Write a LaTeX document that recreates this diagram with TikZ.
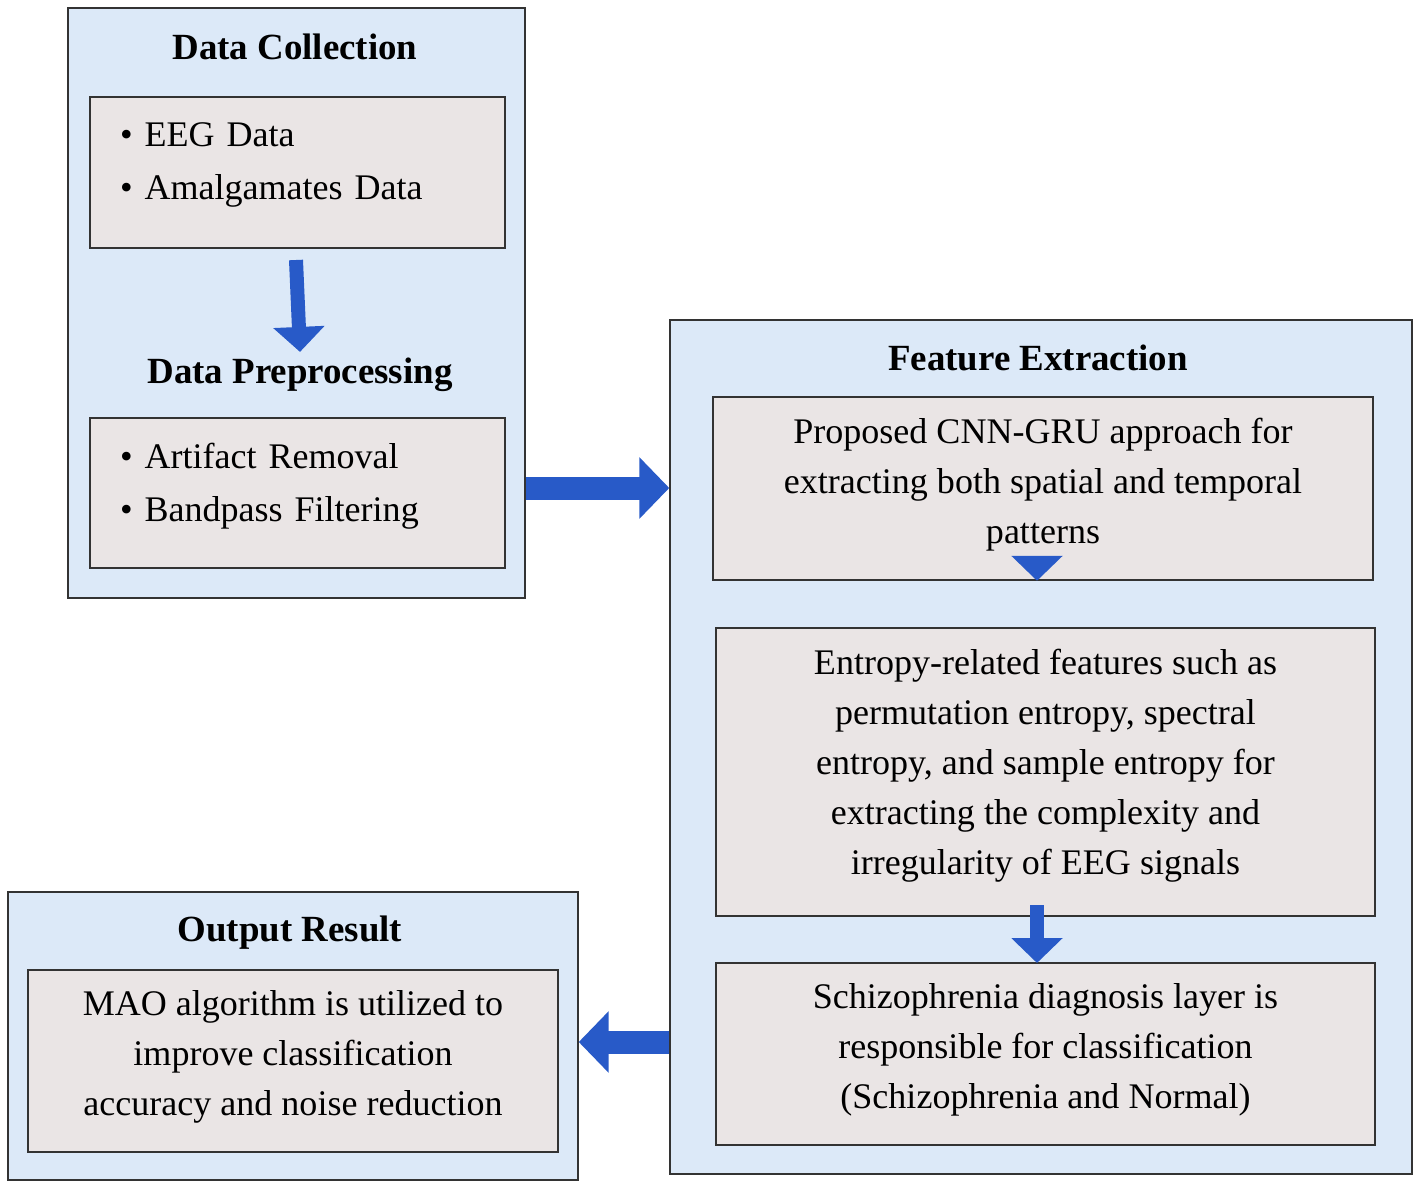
\documentclass[tikz,border=0pt]{standalone}
\usepackage{fontspec}
\setmainfont{Liberation Serif}
\usetikzlibrary{arrows.meta}
\begin{document}
\begin{tikzpicture}[x=0.02cm, y=-0.02cm,
		outer/.style={draw=black!80, line width=0.9pt, fill={rgb,255:red,220;green,233;blue,248}},
		inner/.style={draw=black!80, line width=0.9pt, fill={rgb,255:red,234;green,229;blue,229}},
		title/.style={font=\fontsize{21}{26}\selectfont\bfseries},
		body/.style={font=\fontsize{20.5}{28.5}\selectfont, align=center, inner sep=0pt},
		bullets/.style={font=\fontsize{20.5}{30.5}\selectfont, align=left, text width=7.1cm},
		bigarrow/.style={line width=0.28cm, draw={rgb,255:red,40;green,90;blue,200}, -{Triangle[length=0.5cm,width=1cm]}},
		widearrow/.style={line width=0.46cm, draw={rgb,255:red,40;green,90;blue,200}, -{Triangle[length=0.6cm,width=1.2cm]}}]
		\useasboundingbox (0,0) rectangle (1418,1184);
		% left column
		\node[outer, minimum width=9.14cm, minimum height=11.8cm] (collect) at (296.5,303) {};
		\node[title] (tcollect) at (295,47) {Data Collection};
		\node[inner, minimum width=8.3cm, minimum height=3.02cm] (eeg) at (297.5,172.5) {};
		\node[bullets] at (297.5,165) {\textbullet\ EEG Data\\ \textbullet\ Amalgamates Data};
		\node[title] (tpre) at (300,375) {Data Preprocessing};
		\node[inner, minimum width=8.3cm, minimum height=3cm] (filt) at (297.5,493) {};
		\node[bullets] at (297.5,486) {\textbullet\ Artifact Removal\\ \textbullet\ Bandpass Filtering};
		\coordinate (d1) at (296,260);
		\draw[bigarrow] (d1) -- (tpre.north);
		% feature extraction
		\node[outer, minimum width=14.84cm, minimum height=17.08cm] (feat) at (1041,747) {};
		\node[title] (tfeat) at (1038,358) {Feature Extraction};
		\node[inner, minimum width=13.2cm, minimum height=3.66cm] (cnn) at (1043,488.5) {};
		\node[body] at (1043,485) {Proposed CNN-GRU approach for\\ extracting both spatial and temporal\\ patterns};
		\node[inner, minimum width=13.18cm, minimum height=5.76cm] (ent) at (1045.5,772) {};
		\node[body] at (1045.5,766) {Entropy-related features such as\\ permutation entropy, spectral\\ entropy, and sample entropy for\\ extracting the complexity and\\ irregularity of EEG signals};
		\node[inner, minimum width=13.18cm, minimum height=3.64cm] (diag) at (1045.5,1054) {};
		\node[body] at (1045.5,1050) {Schizophrenia diagnosis layer is\\ responsible for classification\\ (Schizophrenia and Normal)};
		\draw[bigarrow] (1037,573) -- (cnn.south -| 1037,630);
		\draw[bigarrow] (1037,905) -- (1037,963);
		% output
		\node[outer, minimum width=11.4cm, minimum height=5.76cm] (out) at (293,1036) {};
		\node[title] (tout) at (290,933) {Output Result};
		\node[inner, minimum width=10.6cm, minimum height=3.64cm] (mao) at (293,1061) {};
		\node[body] at (293,1057) {MAO algorithm is utilized to\\ improve classification\\ accuracy and noise reduction};
		% links between stages
		\draw[widearrow] (collect.east |- 0,488) -- (feat.west |- 0,488);
		\draw[widearrow] (feat.west |- 0,1042) -- (out.east |- 0,1042);
\end{tikzpicture}
\end{document}
